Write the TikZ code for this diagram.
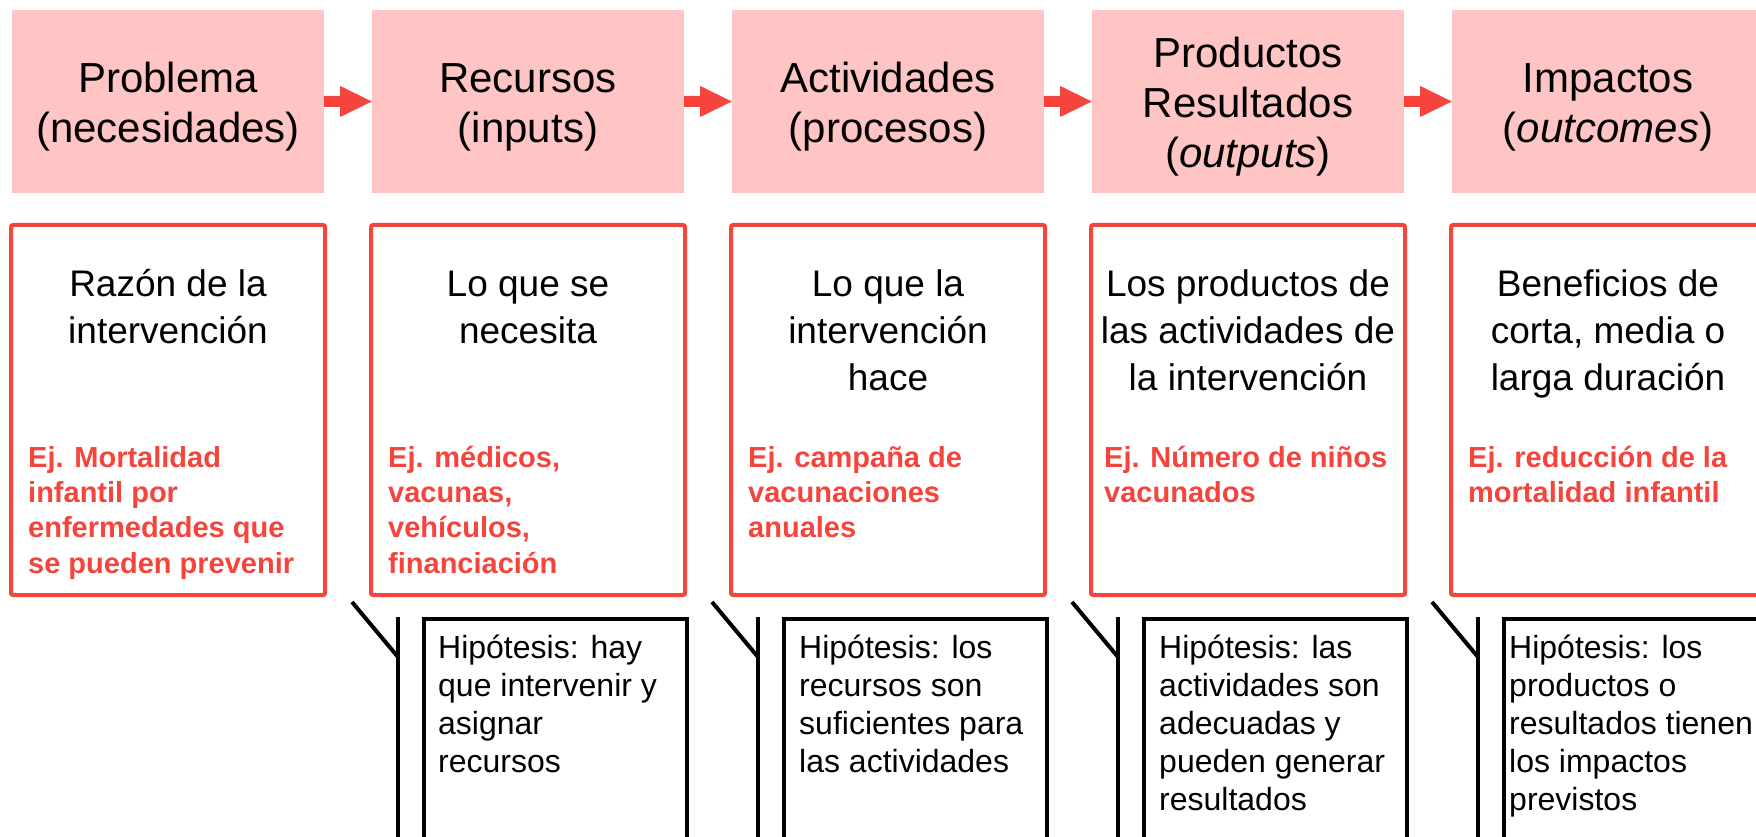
\documentclass[tikz,border=0pt]{standalone}
\usepackage{fontspec}
\setmainfont{Liberation Sans}
\usetikzlibrary{calc}
\definecolor{hdrpink}{RGB}{255,197,197}
\definecolor{accred}{RGB}{245,68,60}
\newcommand{\tp}{\rule{0pt}{1em}}
\tikzset{
  hdr/.style={fill=hdrpink, draw=none, minimum width=312pt, minimum height=183pt, inner sep=0pt},
  hdrtxt/.style={anchor=north, inner sep=0pt, align=center, font=\fontsize{42}{50}\selectfont},
  redbox/.style={draw=accred, line width=4pt, rounded corners=2pt, minimum width=314pt, minimum height=370pt, inner sep=0pt},
  bodytxt/.style={anchor=north, inner sep=0pt, align=center, font=\fontsize{37}{47}\selectfont},
  extxt/.style={anchor=north west, inner sep=0pt, align=left, text=accred, font=\fontsize{29}{35.3}\selectfont\bfseries},
  hypbox/.style={draw=black, line width=4pt, anchor=north west, minimum width=263pt, minimum height=250pt, inner sep=0pt},
  hyptxt/.style={anchor=north west, inner sep=0pt, align=left, font=\fontsize{32}{38}\selectfont},
  calloutline/.style={draw=black, line width=4pt},
  flowarrow/.style={fill=accred, draw=none}
}
\begin{document}
\begin{tikzpicture}[x=1pt,y=-1pt]
\useasboundingbox (0,0) rectangle (1756,837);
\clip (0,0) rectangle (1756,837);
% header boxes
\node[hdr] (h1) at (168,101.5) {};
\node[hdr] (h2) at (528,101.5) {};
\node[hdr] (h3) at (888,101.5) {};
\node[hdr] (h4) at (1248,101.5) {};
\node[hdr] (h5) at (1608,101.5) {};
\node[hdrtxt] (hl1) at ($(h1.center)+(0,-51)$) {\tp Problema\\(necesidades)};
\node[hdrtxt] (hl2) at ($(h2.center)+(0,-51)$) {\tp Recursos\\(inputs)};
\node[hdrtxt] (hl3) at ($(h3.center)+(0,-51)$) {\tp Actividades\\(procesos)};
\node[hdrtxt] (hl4) at ($(h4.center)+(0,-76)$) {\tp Productos\\Resultados\\(\textit{outputs})};
\node[hdrtxt] (hl5) at ($(h5.center)+(0,-51)$) {\tp Impactos\\(\textit{outcomes})};
% arrows
\foreach \a/\b in {h1/h2,h2/h3,h3/h4,h4/h5}{
  \fill[flowarrow] ($(\a.east)+(0,-5.5)$) -- ($(\a.east)+(16,-5.5)$) -- ($(\a.east)+(16,-15.5)$)
    -- (\b.west) -- ($(\a.east)+(16,15.5)$) -- ($(\a.east)+(16,5.5)$) -- ($(\a.east)+(0,5.5)$) -- cycle;
}
% red boxes
\node[redbox] (rb1) at (168,410) {};
\node[redbox] (rb2) at (528,410) {};
\node[redbox] (rb3) at (888,410) {};
\node[redbox] (rb4) at (1248,410) {};
\node[redbox] (rb5) at (1608,410) {};
% body texts
\node[bodytxt] (bt1) at ($(rb1.north)+(0,36)$) {\tp Razón de la\\intervención};
\node[bodytxt] (bt2) at ($(rb2.north)+(0,36)$) {\tp Lo que se\\necesita};
\node[bodytxt] (bt3) at ($(rb3.north)+(0,36)$) {\tp Lo que la\\intervención\\hace};
\node[bodytxt] (bt4) at ($(rb4.north)+(0,36)$) {\tp Los productos de\\las actividades de\\la intervención};
\node[bodytxt] (bt5) at ($(rb5.north)+(0,36)$) {\tp Beneficios de\\corta, media o\\larga duración};
% example texts
\node[extxt] (ex1) at ($(rb1.north west)+(19,215)$) {\tp Ej. Mortalidad\\infantil por\\enfermedades que\\se pueden prevenir};
\node[extxt] (ex2) at ($(rb2.north west)+(19,215)$) {\tp Ej. médicos,\\vacunas,\\vehículos,\\financiación};
\node[extxt] (ex3) at ($(rb3.north west)+(19,215)$) {\tp Ej. campaña de\\vacunaciones\\anuales};
\node[extxt] (ex4) at ($(rb4.north west)+(15,215)$) {\tp Ej. Número de niños\\vacunados};
\node[extxt] (ex5) at ($(rb5.north west)+(19,215)$) {\tp Ej. reducción de la\\mortalidad infantil};
% hypothesis callouts
\node[hypbox] (hb1) at (422,617) {};
\node[hypbox] (hb2) at (782,617) {};
\node[hypbox] (hb3) at (1142,617) {};
\node[hypbox] (hb4) at (1502,617) {};
\foreach \h in {hb1,hb2,hb3,hb4}{
  \coordinate (\h-bt) at ($(\h.north west)+(-24,0)$);
  \coordinate (\h-bb) at ($(\h.north west)+(-24,250)$);
  \coordinate (\h-bj) at ($(\h.north west)+(-24,40)$);
  \coordinate (\h-tip) at ($(\h.north west)+(-70,-15)$);
  \draw[calloutline] (\h-bt) -- (\h-bb);
  \draw[calloutline] (\h-bj) -- (\h-tip);
}
\node[hyptxt] (ht1) at ($(hb1.north west)+(16,9)$) {\tp Hipótesis: hay\\que intervenir y\\asignar\\recursos};
\node[hyptxt] (ht2) at ($(hb2.north west)+(17,9)$) {\tp Hipótesis: los\\recursos son\\suficientes para\\las actividades};
\node[hyptxt] (ht3) at ($(hb3.north west)+(17,9)$) {\tp Hipótesis: las\\actividades son\\adecuadas y\\pueden generar\\resultados};
\node[hyptxt] (ht4) at ($(hb4.north west)+(7,9)$) {\tp Hipótesis: los\\productos o\\resultados tienen\\los impactos\\previstos};
\end{tikzpicture}
\end{document}
